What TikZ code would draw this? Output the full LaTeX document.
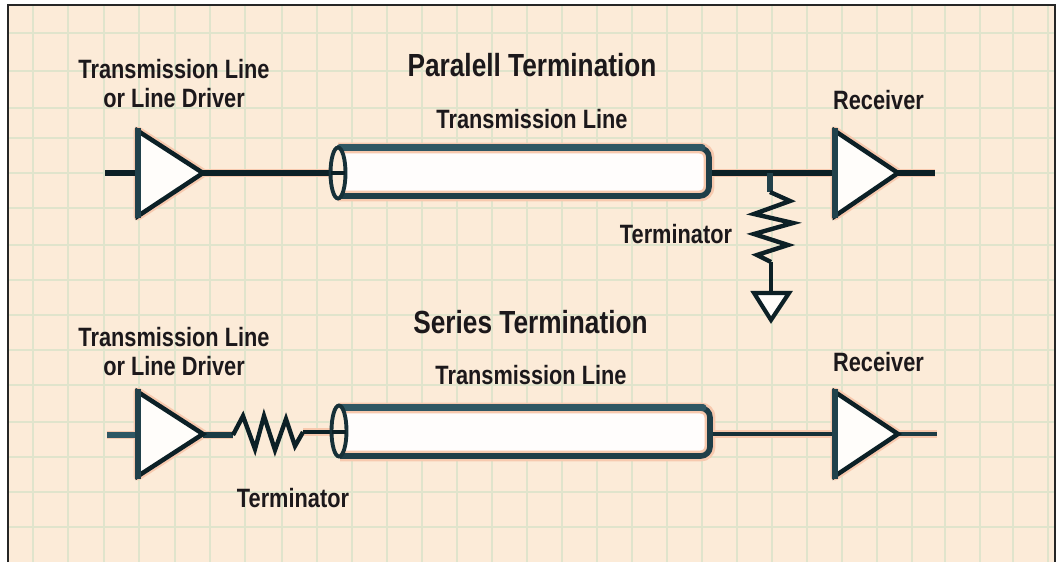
\documentclass[tikz,border=0pt]{standalone}
\usepackage{fontspec}
\newfontfamily\labfont[FakeStretch=0.82]{Liberation Sans Bold}
\definecolor{paper}{HTML}{FCEBD8}
\definecolor{gridc}{HTML}{E0E4CC}
\definecolor{ink}{HTML}{0C2026}
\definecolor{teal}{HTML}{2F5763}
\definecolor{halo}{HTML}{F7C9AE}
\definecolor{tx}{HTML}{1C181B}
\tikzset{
  lab/.style={font=\labfont\fontsize{19.9}{22.1}\selectfont,text=tx,inner sep=0pt,align=center},
  title/.style={font=\labfont\fontsize{24}{26}\selectfont,text=tx,inner sep=0pt},
  wire/.style={draw=ink,line width=3.9pt,line cap=butt},
  halow/.style={draw=halo,line width=6.6pt,line join=round},
  tri/.style={draw=ink,line width=3.4pt,fill=white!88!paper,line join=miter},
  edgeL/.style={draw=teal!60!ink,line width=4.8pt},
  body/.style={draw=teal!55!ink,line width=4.2pt,rounded corners=7pt},
  capend/.style={draw=ink!70!teal,line width=2.9pt},
  zig/.style={draw=ink,line width=3.3pt,line join=miter}
}
\begin{document}
\begin{tikzpicture}[x=0.75pt,y=-0.75pt]
\useasboundingbox (0,0) rectangle (1062,562);
\fill[paper] (0,0) rectangle (1062,562);
\fill[white] (0,0) rectangle (8,562);
\fill[white] (1055,0) rectangle (1062,562);
\fill[white] (0,0) rectangle (1062,5);
% grid
\foreach \gx in {33,68,104,139,175,210,245,282,317,352,387,422,457,492,527,562,597,632,667,702,737,772,807,842,877,912,945,980,1013,1048}
  \draw[gridc,line width=1.9pt] (\gx,6) -- (\gx,562);
\foreach \gy in {33,71,108,138,173,208,245,280,315,350,385,422,457,492,527}
  \draw[gridc,line width=1.9pt] (9,\gy) -- (1054,\gy);
\draw[black!85,line width=1.4pt] (8,562) -- (8,5) -- (1055,5) -- (1055,562);

% top row coordinates
\coordinate (a1in) at (105,173);
\coordinate (a1l)  at (138,173);
\coordinate (a1o)  at (203,173);
\coordinate (c1l)  at (338,173);
\coordinate (c1r)  at (710,173);
\coordinate (j1)   at (770,173);
\coordinate (r1l)  at (835,173);
\coordinate (r1o)  at (898,173);
\coordinate (r1e)  at (935,173);
\coordinate (z1a)  at (770,192);
\coordinate (z1b)  at (771,262);
\coordinate (g1)   at (771,294);
% bottom row coordinates
\coordinate (a2in) at (107,435);
\coordinate (a2l)  at (138,435);
\coordinate (a2o)  at (203,435);
\coordinate (z2a)  at (233,435);
\coordinate (z2b)  at (303,432);
\coordinate (c2l)  at (339,432);
\coordinate (c2r)  at (711,434);
\coordinate (r2l)  at (835,434);
\coordinate (r2o)  at (898,434);
\coordinate (r2e)  at (937,434);

% halos
\draw[halow] (a1o) -- (c1l) (c1r) -- (r1l) (r1o) -- (r1e);
\draw[halow] (a2in) -- (a2l) (a2o) -- (z2a) (z2b) -- (c2l) (c2r) -- (r2l) (r2o) -- (r2e);
\draw[halow] (138,131) -- (203,173) -- (138,216) -- cycle;
\draw[halow] (835,131) -- (898,173) -- (835,216) -- cycle;
\draw[halow] (138,392) -- (203,434) -- (138,476) -- cycle;
\draw[halow] (835,392) -- (898,434) -- (835,476) -- cycle;
\fill[white!92!paper,rounded corners=7pt] (338,148) -- (709,148) -- (709,196) -- (338,196) -- cycle;
\draw[halo,line width=8.2pt,rounded corners=7pt] (338,148) -- (709,148) -- (709,196) -- (338,196);
\fill[white!92!paper,rounded corners=7pt] (340,408) -- (710,408) -- (710,456) -- (340,456) -- cycle;
\draw[halo,line width=8.2pt,rounded corners=7pt] (340,408) -- (710,408) -- (710,456) -- (340,456);

% wires
\draw[wire] (a1in) -- (a1l);
\draw[wire] (a1o) -- (c1l);
\draw[wire] (c1r) -- (r1l);
\draw[wire] (r1o) -- (r1e);
\draw[wire,draw=teal,line width=4.6pt] (a2in) -- (a2l);
\draw[wire,draw=teal!50!ink] (a2o) -- (z2a);
\draw[wire,line width=3.4pt] (z2b) -- (c2l);
\draw[wire,draw=teal!30!ink,line width=3.6pt] (c2r) -- (r2l);
\draw[wire,draw=teal!50!ink,line width=3.6pt] (r2o) -- (r2e);
\draw[wire,draw=teal!60!ink] (j1) -- (z1a);
\draw[wire,line width=3.2pt] (z1b) -- (g1);

% buffers
\draw[tri] (138,131) -- (203,173) -- (138,216) -- cycle;
\draw[tri] (835,131) -- (898,173) -- (835,216) -- cycle;
\draw[tri] (138,392) -- (203,434) -- (138,476) -- cycle;
\draw[tri] (835,392) -- (898,434) -- (835,476) -- cycle;
\draw[edgeL] (138,128) -- (138,218);
\draw[edgeL] (835,128) -- (835,218);
\draw[edgeL] (138,389) -- (138,479);
\draw[edgeL] (835,389) -- (835,479);
\draw[tri,line width=3.1pt] (754,293) -- (789,293) -- (771,320) -- cycle;

% resistors
\draw[zig] (z1a) -- (790,201) -- (754,214) -- (793,223) -- (754,234) -- (788,245) -- (757,255) -- (z1b);
\draw[zig] (z2a) -- (243,416) -- (255,449) -- (264,416) -- (275,450) -- (286,419) -- (295,446) -- (z2b);

% cables
\draw[body] (338,148) -- (709,148) -- (709,196) -- (338,196);
\draw[teal,line width=5.2pt,line cap=round] (340,147.5) -- (702,147.5);
\draw[capend,fill=paper] (c1l) ellipse [x radius=7.5,y radius=25.5];
\draw[wire,line width=2.8pt] (331,173) -- (c1l) -- (345,173);
\draw[body] (340,408) -- (710,408) -- (710,456) -- (340,456);
\draw[teal,line width=5.2pt,line cap=round] (342,407.5) -- (703,407.5);
\draw[capend,fill=paper] (339,431) ellipse [x radius=7.5,y radius=25.5];
\draw[wire,line width=2.8pt] (332,432) -- (c2l) -- (346,432);

% labels
\node[lab] (t1) at (174,83.5) {Transmission Line\\or Line Driver};
\node[title] (t2) at (532,65.5) {Paralell Termination};
\node[lab] (t3) at (532,119) {Transmission Line};
\node[lab] (t4) at (878.5,100.5) {Receiver};
\node[lab] (t5) at (676,234) {Terminator};
\node[title] (t6) at (530.5,322) {Series Termination};
\node[lab] (t7) at (174,351.5) {Transmission Line\\or Line Driver};
\node[lab] (t8) at (531,375) {Transmission Line};
\node[lab] (t9) at (878.5,362) {Receiver};
\node[lab] (t10) at (293,498) {Terminator};
\end{tikzpicture}
\end{document}
